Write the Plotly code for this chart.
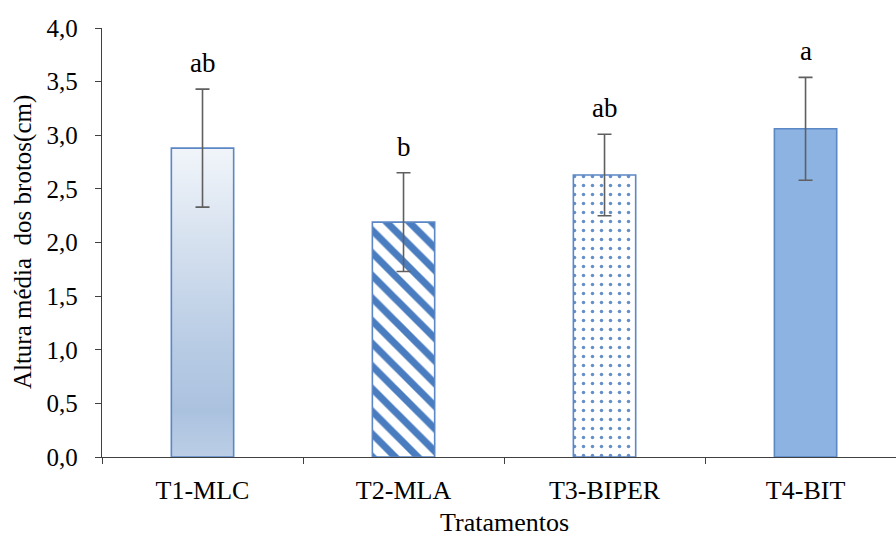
import plotly.graph_objects as go

# Mean shoot height per treatment, standard deviation, and Tukey letters
tratamentos = ["T1-MLC", "T2-MLA", "T3-BIPER", "T4-BIT"]
altura_media = [2.88, 2.19, 2.63, 3.06]
desvio = [0.55, 0.46, 0.38, 0.48]
letras = ["ab", "b", "ab", "a"]

FONT = "Liberation Serif"
EDGE = "#5b87c5"
BLUE = "#4a7cc0"
BAR_W = 0.31
pos = list(range(len(tratamentos)))


def bar(i, color, pattern=None):
    """One bar of the chart, with its own fill style."""
    marker = dict(color=color, line=dict(color=EDGE, width=1.6), opacity=1)
    if pattern:
        marker["pattern"] = pattern
    return go.Bar(
        x=[pos[i]], y=[altura_media[i]], width=BAR_W,
        marker=marker, hoverinfo="skip", showlegend=False,
    )


fig = go.Figure()

# T1: gradient-filled outline
x0 = pos[0]
v0 = altura_media[0]
fig.add_trace(go.Scatter(
    x=[x0 - BAR_W / 2, x0 - BAR_W / 2, x0 + BAR_W / 2, x0 + BAR_W / 2, x0 - BAR_W / 2],
    y=[0, v0, v0, 0, 0],
    mode="lines",
    line=dict(color=EDGE, width=1.6),
    fill="toself",
    fillgradient=dict(
        type="vertical",
        colorscale=[
            [0.0, "#bccee6"],
            [0.15, "#abc2df"],
            [0.35, "#b7cbe4"],
            [0.7, "#d6e1ef"],
            [1.0, "#f1f5fa"],
        ],
    ),
    hoverinfo="skip",
    showlegend=False,
))

# T2: diagonal stripes, T3: dots, T4: solid
fig.add_trace(bar(1, "white", dict(shape="\\", fgcolor=BLUE, fgopacity=1, bgcolor="white",
                                   size=16, solidity=0.44, fillmode="overlay")))
fig.add_trace(bar(2, "white", dict(shape=".", fgcolor=BLUE, fgopacity=0.85, bgcolor="white",
                                   size=9, solidity=0.12, fillmode="overlay")))
fig.add_trace(bar(3, "#8db3e2"))

# Error bars drawn on top of every fill
fig.add_trace(go.Scatter(
    x=pos,
    y=altura_media,
    mode="markers",
    marker=dict(size=1, color="rgba(0,0,0,0)"),
    error_y=dict(type="data", array=desvio, color="#5f5f5f", thickness=1.6, width=7),
    hoverinfo="skip",
    showlegend=False,
))

# Significance letters above the error bars
for xi, m, s, lt in zip(pos, altura_media, desvio, letras):
    fig.add_annotation(
        x=xi, y=m + s, text=lt, showarrow=False,
        xref="x", yref="y", yanchor="bottom", yshift=9,
        font=dict(family=FONT, size=27, color="black"),
    )

# Axis titles
fig.add_annotation(
    x=1.5, y=-0.152, xref="x", yref="paper", text="Tratamentos",
    showarrow=False, yanchor="middle",
    font=dict(family=FONT, size=26, color="black"),
)
fig.add_annotation(
    x=-0.1, y=0.5, xref="paper", yref="paper",
    text="Altura média \u00a0dos brotos(cm)", textangle=-90,
    showarrow=False, xanchor="center", yanchor="middle",
    font=dict(family=FONT, size=25, color="black"),
)

fig.update_layout(
    width=896,
    height=539,
    margin=dict(l=102, r=0, t=28, b=82),
    paper_bgcolor="white",
    plot_bgcolor="white",
    separators=",.",
    barmode="overlay",
    font=dict(family=FONT, size=20, color="black"),
)

fig.update_xaxes(
    range=[-0.5, 3.45],
    tickmode="array",
    tickvals=pos,
    ticktext=tratamentos,
    ticks="",
    ticklabelstandoff=10,
    tickfont=dict(family=FONT, size=26, color="black"),
    showline=True, linecolor="#404040", linewidth=1.4,
    showgrid=False, zeroline=False,
    minor=dict(tick0=-0.5, dtick=1, ticks="outside", ticklen=6,
               tickcolor="#404040", tickwidth=1.4, showgrid=False),
)

fig.update_yaxes(
    range=[0, 4],
    dtick=0.5,
    tickformat=".1f",
    ticks="outside", ticklen=6, tickcolor="#404040", tickwidth=1.4,
    ticklabelstandoff=12,
    tickfont=dict(family=FONT, size=25, color="black"),
    showline=True, linecolor="#404040", linewidth=1.4,
    showgrid=False, zeroline=False,
)

fig.write_html("out.html")
